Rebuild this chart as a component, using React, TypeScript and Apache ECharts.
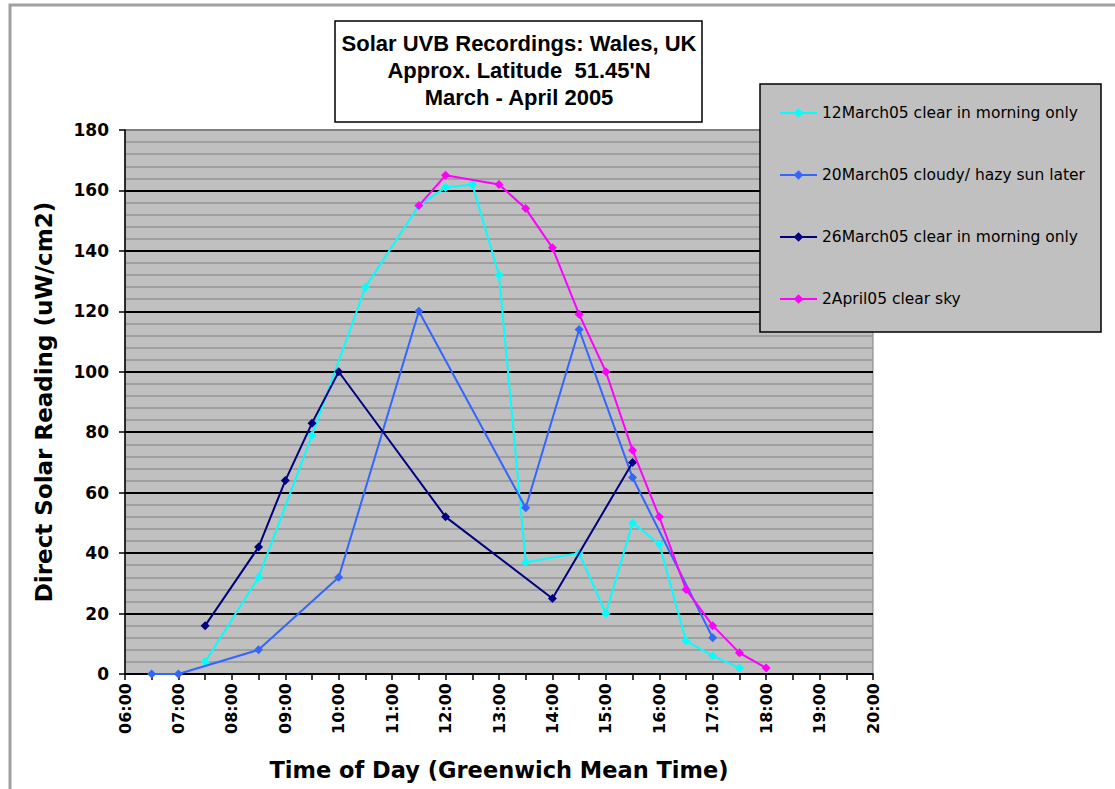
import React, { useEffect, useRef } from "react";
import * as echarts from "echarts";

const hourTicks = [6, 7, 8, 9, 10, 11, 12, 13, 14, 15, 16, 17, 18, 19, 20];
const hourLabels = ["06:00", "07:00", "08:00", "09:00", "10:00", "11:00", "12:00", "13:00", "14:00", "15:00", "16:00", "17:00", "18:00", "19:00", "20:00"];

const seriesNames = [
  "12March05 clear in morning only",
  "20March05 cloudy/ hazy sun later",
  "26March05 clear in morning only",
  "2April05 clear sky",
];

const march12Times = [7.5, 8.5, 9.5, 10.5, 11.5, 12, 12.5, 13, 13.5, 14.5, 15, 15.5, 16, 16.5, 17, 17.5];
const march12Values = [4, 32, 79, 128, 155, 161, 162, 132, 37, 40, 20, 50, 43, 11, 6, 2];

const march20Times = [6.5, 7, 8.5, 10, 11.5, 13.5, 14.5, 15.5, 17];
const march20Values = [0, 0, 8, 32, 120, 55, 114, 65, 12];

const march26Times = [7.5, 8.5, 9, 9.5, 10, 12, 14, 15.5];
const march26Values = [16, 42, 64, 83, 100, 52, 25, 70];

const april2Times = [11.5, 12, 13, 13.5, 14, 14.5, 15, 15.5, 16, 16.5, 17, 17.5, 18];
const april2Values = [155, 165, 162, 154, 141, 119, 100, 74, 52, 28, 16, 7, 2];

const seriesColors = ["#00ffff", "#3366ff", "#000080", "#ff00ff"];

const titleLines = ["Solar UVB Recordings: Wales, UK", "Approx. Latitude  51.45'N", "March - April 2005"];

const FONT = "'Liberation Sans', Arial, sans-serif";
const WIDE = "'DejaVu Sans', sans-serif";

function pairs(t: number[], v: number[]) {
  return t.map((x, i) => [x, v[i]]);
}

export default function App() {
  const ref = useRef<HTMLDivElement>(null);
  useEffect(() => {
    if (!ref.current) return;
    const chart = echarts.init(ref.current, null, { renderer: "svg" });
    const allData = [
      pairs(march12Times, march12Values),
      pairs(march20Times, march20Values),
      pairs(march26Times, march26Values),
      pairs(april2Times, april2Values),
    ];
    const option: any = {
      animation: false,
      backgroundColor: "#ffffff",
      grid: {
        left: 125,
        top: 130,
        width: 748,
        height: 544,
        containLabel: false,
        outerBoundsMode: "none",
        show: true,
        backgroundColor: "#c0c0c0",
        borderColor: "#808080",
        borderWidth: 1,
      },
      xAxis: {
        type: "value",
        min: 6,
        max: 20,
        interval: 0.5,
        name: "Time of Day (Greenwich Mean Time)",
        nameLocation: "middle",
        nameGap: 84,
        nameTextStyle: { fontFamily: WIDE, fontWeight: "bold", fontSize: 22.5, color: "#000" },
        axisLine: { show: true, onZero: false, lineStyle: { color: "#000", width: 1.5 } },
        axisTick: { show: true, length: 6, lineStyle: { color: "#000", width: 1.5 } },
        axisLabel: {
          rotate: 90,
          margin: 9,
          fontFamily: WIDE,
          fontWeight: "bold",
          fontSize: 16,
          color: "#000",
          formatter: (v: number) => {
            const i = hourTicks.indexOf(v);
            return i >= 0 ? hourLabels[i] : "";
          },
        },
        splitLine: { show: false },
      },
      yAxis: {
        type: "value",
        min: 0,
        max: 180,
        interval: 20,
        name: "Direct Solar Reading (uW/cm2)",
        nameLocation: "middle",
        nameGap: 70,
        nameRotate: 90,
        nameTextStyle: { fontFamily: WIDE, fontWeight: "bold", fontSize: 23, color: "#000" },
        axisLine: { show: true, lineStyle: { color: "#000", width: 1.5 } },
        axisTick: { show: true, length: 6, lineStyle: { color: "#000", width: 1.5 } },
        axisLabel: { margin: 16, fontFamily: WIDE, fontWeight: "bold", fontSize: 17, color: "#000" },
        splitLine: {
          show: true,
          lineStyle: {
            color: ["#000", "#000", "#000", "#000", "#000", "#000", "#000", "#000", "#000", "#808080"],
            width: 2,
          },
        },
        minorTick: { show: false, splitNumber: 5 },
        minorSplitLine: { show: true, lineStyle: { color: "#959595", width: 1.5 } },
      },
      legend: {
        orient: "vertical",
        left: 779,
        top: 103,
        padding: 0,
        itemGap: 42,
        itemWidth: 37,
        itemHeight: 12,
        z: 6,
        textStyle: { fontFamily: WIDE, fontSize: 15.5, color: "#000", lineHeight: 20 },
        data: seriesNames,
      },
      graphic: [
        {
          type: "rect",
          z: -10,
          silent: true,
          shape: { x: 10, y: 5, width: 1200, height: 900 },
          style: { fill: "none", stroke: "#a0a0a0", lineWidth: 3 },
        },
        {
          type: "rect",
          z: 100,
          silent: true,
          shape: { x: 335, y: 21, width: 367, height: 101 },
          style: { fill: "#ffffff", stroke: "#000", lineWidth: 1.5 },
        },
        {
          type: "text",
          z: 101,
          silent: true,
          x: 519,
          y: 30,
          style: {
            text: titleLines.join("\n"),
            fontFamily: FONT,
            fontWeight: "bold",
            fontSize: 22,
            lineHeight: 27,
            fill: "#000",
            textAlign: "center",
            textVerticalAlign: "top",
          },
        },
        {
          type: "rect",
          z: 5,
          silent: true,
          shape: { x: 760, y: 84, width: 341, height: 248 },
          style: { fill: "#c0c0c0", stroke: "#000", lineWidth: 1.5 },
        },
      ],
      series: seriesNames.map((name, i) => ({
        name,
        type: "line",
        data: allData[i],
        color: seriesColors[i],
        symbol: "diamond",
        symbolSize: 9,
        showSymbol: true,
        lineStyle: { width: 2, color: seriesColors[i] },
        itemStyle: { color: seriesColors[i] },
        z: 2 + i * 0.01,
      })),
    };
    chart.setOption(option);
    return () => chart.dispose();
  }, []);
  return (
    <div
      ref={ref}
      style={{ position: "fixed", left: 0, top: 0, width: 1115, height: 789 }}
    />
  );
}
